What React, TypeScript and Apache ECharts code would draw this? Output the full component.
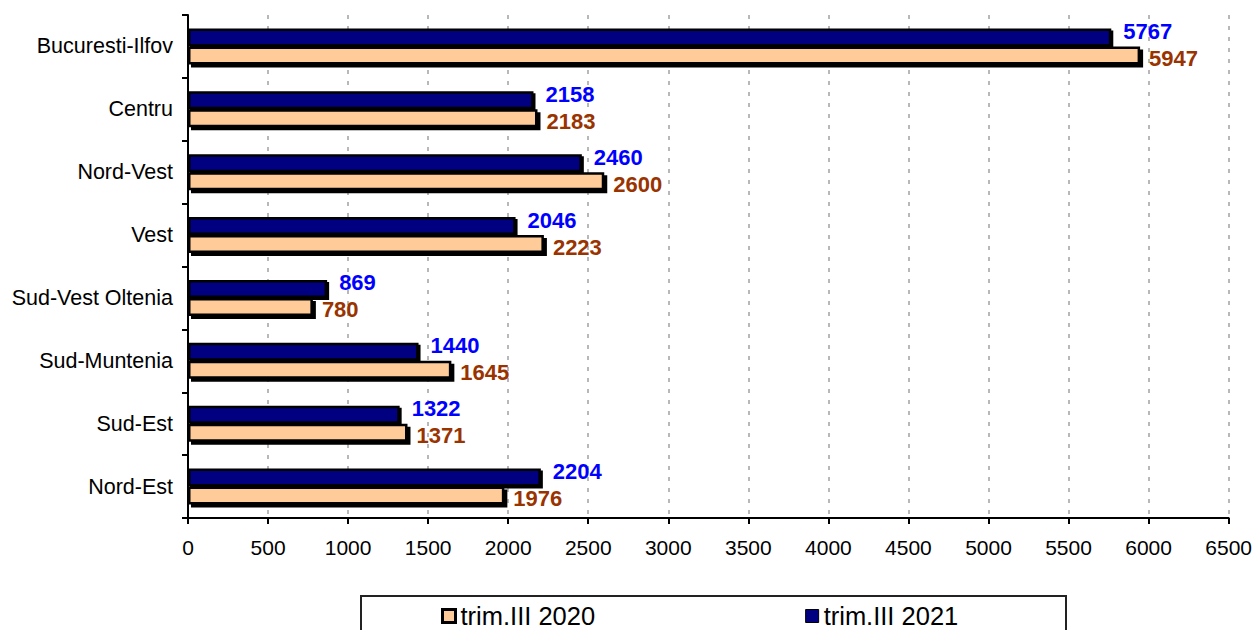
import React, { useEffect, useRef } from "react";
import * as echarts from "echarts";

const categories = [
  "Nord-Est",
  "Sud-Est",
  "Sud-Muntenia",
  "Sud-Vest Oltenia",
  "Vest",
  "Nord-Vest",
  "Centru",
  "Bucuresti-Ilfov",
];
const values2020 = [1976, 1371, 1645, 780, 2223, 2600, 2183, 5947];
const values2021 = [2204, 1322, 1440, 869, 2046, 2460, 2158, 5767];
const seriesNames = ["trim.III 2020", "trim.III 2021"];
const xTicks = { min: 0, max: 6500, interval: 500 };

const FONT = "Arial, 'Liberation Sans', sans-serif";

export default function App() {
  const ref = useRef<HTMLDivElement>(null);
  useEffect(() => {
    if (!ref.current) return;
    const chart = echarts.init(ref.current, null, { renderer: "svg" });
    chart.setOption({
      animation: false,
      backgroundColor: "#ffffff",
      grid: { left: 188, right: 23, top: 15, bottom: 112, containLabel: false },
      xAxis: {
        type: "value",
        min: xTicks.min,
        max: xTicks.max,
        interval: xTicks.interval,
        axisLine: { show: true, lineStyle: { color: "#000", width: 2 } },
        axisTick: { show: true, length: 6, lineStyle: { color: "#000", width: 2 } },
        axisLabel: {
          color: "#000",
          fontSize: 21,
          fontFamily: FONT,
          margin: 19,
          formatter: (v: number) => String(v),
        },
        splitLine: {
          show: true,
          lineStyle: { color: "#b8b8b8", width: 2, type: [4, 7] },
        },
      },
      yAxis: {
        type: "category",
        data: categories,
        axisLine: { show: true, lineStyle: { color: "#000", width: 2 } },
        axisTick: { show: true, length: 6, lineStyle: { color: "#000", width: 2 } },
        axisLabel: { color: "#000", fontSize: 21.5, fontFamily: FONT, margin: 15 },
        splitLine: { show: false },
      },
      legend: {
        left: 436,
        top: 598,
        itemWidth: 13,
        itemHeight: 13,
        itemGap: 210,
        icon: "rect",
        textStyle: { fontSize: 25.5, fontFamily: FONT, color: "#000" },
        data: [
          {
            name: seriesNames[0],
            itemStyle: {
              color: "#FFCC99",
              borderColor: "#000",
              borderWidth: 3,
              shadowBlur: 0,
              shadowOffsetX: 0,
              shadowOffsetY: 0,
              shadowColor: "transparent",
            },
          },
          {
            name: seriesNames[1],
            itemStyle: {
              color: "#000080",
              borderColor: "#000",
              borderWidth: 1,
              shadowBlur: 0,
              shadowOffsetX: 0,
              shadowOffsetY: 0,
              shadowColor: "transparent",
            },
          },
        ],
      },
      graphic: [
        {
          type: "rect",
          shape: { x: 361, y: 596, width: 705, height: 40 },
          style: { fill: "none", stroke: "#222", lineWidth: 2 },
          silent: true,
        },
      ],
      series: [
        {
          name: seriesNames[1],
          type: "bar",
          data: values2021,
          barWidth: 18,
          barGap: "0%",
          z: 2,
          itemStyle: {
            color: "#000080",
            borderColor: "#000",
            borderWidth: 2.5,
            shadowColor: "#000",
            shadowBlur: 0,
            shadowOffsetX: 2,
            shadowOffsetY: 2,
          },
          label: {
            show: true,
            position: "right",
            distance: 12,
            offset: [0, -6],
            color: "#0000FF",
            fontWeight: "bold",
            fontSize: 22,
            fontFamily: FONT,
          },
        },
        {
          name: seriesNames[0],
          type: "bar",
          data: values2020,
          barWidth: 18,
          barGap: "0%",
          z: 3,
          itemStyle: {
            color: "#FFCC99",
            borderColor: "#000",
            borderWidth: 2.5,
            shadowColor: "#000",
            shadowBlur: 0,
            shadowOffsetX: 3,
            shadowOffsetY: 3,
          },
          label: {
            show: true,
            position: "right",
            distance: 9,
            offset: [0, 3],
            color: "#993300",
            fontWeight: "bold",
            fontSize: 22,
            fontFamily: FONT,
          },
        },
      ],
    });
    return () => chart.dispose();
  }, []);
  return (
    <div
      ref={ref}
      style={{ position: "fixed", left: 0, top: 0, width: 1255, height: 630 }}
    />
  );
}
